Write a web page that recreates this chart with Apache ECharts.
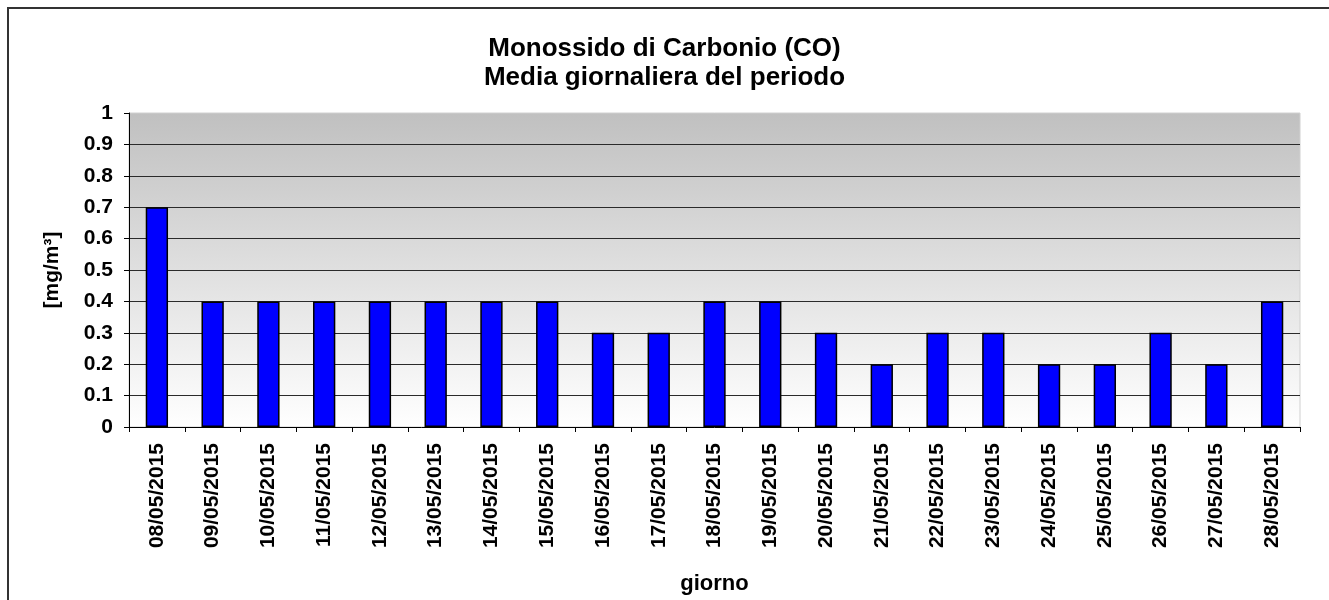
<!DOCTYPE html>
<html>
<head>
<meta charset="utf-8">
<script src="https://cdn.jsdelivr.net/npm/echarts@6/dist/echarts.min.js"></script>
<style>
html,body{margin:0;padding:0;background:#fff;}
#chart{width:1329px;height:600px;}
</style>
</head>
<body>
<div id="chart"></div>
<script>
const titleLines = ["Monossido di Carbonio (CO)", "Media giornaliera del periodo"];
const categories = ["08/05/2015","09/05/2015","10/05/2015","11/05/2015","12/05/2015","13/05/2015","14/05/2015","15/05/2015","16/05/2015","17/05/2015","18/05/2015","19/05/2015","20/05/2015","21/05/2015","22/05/2015","23/05/2015","24/05/2015","25/05/2015","26/05/2015","27/05/2015","28/05/2015"];
const values = [0.7,0.4,0.4,0.4,0.4,0.4,0.4,0.4,0.3,0.3,0.4,0.4,0.3,0.2,0.3,0.3,0.2,0.2,0.3,0.2,0.4];
const yAxisName = "[mg/m³]";
const xAxisName = "giorno";

const FONT = "'Liberation Sans', Arial, sans-serif";
const chart = echarts.init(document.getElementById('chart'), null, {renderer: 'canvas'});
chart.setOption({
  animation: false,
  backgroundColor: '#ffffff',
  graphic: [{
    type: 'rect', z: 100, silent: true,
    shape: {x: 8, y: 8, width: 1400, height: 700},
    style: {fill: 'none', stroke: '#333333', lineWidth: 2}
  }],
  title: {
    text: titleLines.join('\n'),
    left: 'center', top: 29,
    textStyle: {fontFamily: FONT, fontWeight: 'bold', fontSize: 26, lineHeight: 29, color: '#000'}
  },
  grid: {
    left: 129, right: 29, top: 113, bottom: 172,
    show: true,
    borderColor: '#d0d0d0', borderWidth: 1,
    backgroundColor: new echarts.graphic.LinearGradient(0, 0, 0, 1, [
      {offset: 0, color: '#c0c0c0'},
      {offset: 1, color: '#ffffff'}
    ])
  },
  xAxis: {
    type: 'category',
    data: categories,
    boundaryGap: true,
    name: xAxisName,
    nameLocation: 'middle',
    nameGap: 146,
    nameTextStyle: {fontFamily: FONT, fontWeight: 'bold', fontSize: 22, color: '#000'},
    axisLine: {lineStyle: {color: '#000', width: 1}},
    axisTick: {show: true, alignWithLabel: false, length: 5, lineStyle: {color: '#000'}},
    axisLabel: {rotate: 90, interval: 0, margin: 16, fontFamily: FONT, fontWeight: 'bold', fontSize: 21, color: '#000'}
  },
  yAxis: {
    type: 'value',
    min: 0, max: 1, interval: 0.1,
    name: yAxisName,
    nameLocation: 'middle',
    nameGap: 66,
    nameRotate: 90,
    nameTextStyle: {fontFamily: FONT, fontWeight: 'bold', fontSize: 21, color: '#000'},
    axisLine: {show: true, lineStyle: {color: '#000', width: 1}},
    axisTick: {show: true, length: 5, lineStyle: {color: '#000'}},
    axisLabel: {
      margin: 16, fontFamily: FONT, fontWeight: 'bold', fontSize: 21, color: '#000',
      formatter: v => String(Math.round(v * 10) / 10)
    },
    splitLine: {show: true, showMaxLine: false, showMinLine: false, lineStyle: {color: '#2a2a2a', width: 1.2}}
  },
  series: [{
    type: 'bar',
    data: values,
    barWidth: '40%',
    itemStyle: {color: '#0000ff', borderColor: '#000', borderWidth: 1.5}
  }]
});
</script>
</body>
</html>
